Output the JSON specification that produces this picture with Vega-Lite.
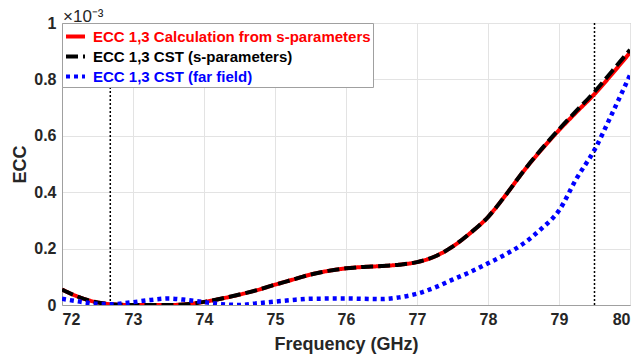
{
  "$schema": "https://vega.github.io/schema/vega-lite/v6.json",
  "width": 568,
  "height": 282,
  "autosize": {"type": "none"},
  "padding": {"left": 62, "top": 23, "right": 14, "bottom": 57},
  "background": "white",
  "title": {"text": "×10⁻³", "anchor": "start", "frame": "group", "font": "Liberation Sans", "fontSize": 17, "fontWeight": "normal", "color": "#262626", "offset": -11, "dx": 1},
  "config": {
    "view": {"stroke": "#a0a0a0", "strokeWidth": 1},
    "axis": {"labelFont": "Liberation Sans", "labelFontWeight": "bold", "labelFontSize": 16, "labelColor": "#262626", "titleFont": "Liberation Sans", "titleFontWeight": "bold", "titleFontSize": 18, "titleColor": "#262626", "gridColor": "#e3e3e3", "domainColor": "#a0a0a0", "ticks": false, "labelPadding": 6}
  },
  "datasets": {
    "curves": [
      {"freq": 72.0, "ecc": 0.055, "series": "ECC 1,3 Calculation from s-parameters"},
      {"freq": 72.2, "ecc": 0.032, "series": "ECC 1,3 Calculation from s-parameters"},
      {"freq": 72.4, "ecc": 0.015, "series": "ECC 1,3 Calculation from s-parameters"},
      {"freq": 72.6, "ecc": 0.005, "series": "ECC 1,3 Calculation from s-parameters"},
      {"freq": 72.8, "ecc": 0.001, "series": "ECC 1,3 Calculation from s-parameters"},
      {"freq": 73.0, "ecc": 0.0, "series": "ECC 1,3 Calculation from s-parameters"},
      {"freq": 73.5, "ecc": 0.0, "series": "ECC 1,3 Calculation from s-parameters"},
      {"freq": 73.8, "ecc": 0.004, "series": "ECC 1,3 Calculation from s-parameters"},
      {"freq": 74.0, "ecc": 0.011, "series": "ECC 1,3 Calculation from s-parameters"},
      {"freq": 74.25, "ecc": 0.023, "series": "ECC 1,3 Calculation from s-parameters"},
      {"freq": 74.5, "ecc": 0.037, "series": "ECC 1,3 Calculation from s-parameters"},
      {"freq": 74.75, "ecc": 0.053, "series": "ECC 1,3 Calculation from s-parameters"},
      {"freq": 75.0, "ecc": 0.072, "series": "ECC 1,3 Calculation from s-parameters"},
      {"freq": 75.25, "ecc": 0.09, "series": "ECC 1,3 Calculation from s-parameters"},
      {"freq": 75.5, "ecc": 0.108, "series": "ECC 1,3 Calculation from s-parameters"},
      {"freq": 75.75, "ecc": 0.121, "series": "ECC 1,3 Calculation from s-parameters"},
      {"freq": 76.0, "ecc": 0.13, "series": "ECC 1,3 Calculation from s-parameters"},
      {"freq": 76.25, "ecc": 0.135, "series": "ECC 1,3 Calculation from s-parameters"},
      {"freq": 76.5, "ecc": 0.138, "series": "ECC 1,3 Calculation from s-parameters"},
      {"freq": 76.75, "ecc": 0.143, "series": "ECC 1,3 Calculation from s-parameters"},
      {"freq": 77.0, "ecc": 0.152, "series": "ECC 1,3 Calculation from s-parameters"},
      {"freq": 77.25, "ecc": 0.172, "series": "ECC 1,3 Calculation from s-parameters"},
      {"freq": 77.5, "ecc": 0.207, "series": "ECC 1,3 Calculation from s-parameters"},
      {"freq": 77.75, "ecc": 0.255, "series": "ECC 1,3 Calculation from s-parameters"},
      {"freq": 78.0, "ecc": 0.312, "series": "ECC 1,3 Calculation from s-parameters"},
      {"freq": 78.25, "ecc": 0.39, "series": "ECC 1,3 Calculation from s-parameters"},
      {"freq": 78.5, "ecc": 0.474, "series": "ECC 1,3 Calculation from s-parameters"},
      {"freq": 78.75, "ecc": 0.55, "series": "ECC 1,3 Calculation from s-parameters"},
      {"freq": 79.0, "ecc": 0.62, "series": "ECC 1,3 Calculation from s-parameters"},
      {"freq": 79.25, "ecc": 0.685, "series": "ECC 1,3 Calculation from s-parameters"},
      {"freq": 79.5, "ecc": 0.748, "series": "ECC 1,3 Calculation from s-parameters"},
      {"freq": 79.75, "ecc": 0.82, "series": "ECC 1,3 Calculation from s-parameters"},
      {"freq": 80.0, "ecc": 0.895, "series": "ECC 1,3 Calculation from s-parameters"},

      {"freq": 72.0, "ecc": 0.055, "series": "ECC 1,3 CST (s-parameters)"},
      {"freq": 72.2, "ecc": 0.032, "series": "ECC 1,3 CST (s-parameters)"},
      {"freq": 72.4, "ecc": 0.015, "series": "ECC 1,3 CST (s-parameters)"},
      {"freq": 72.6, "ecc": 0.005, "series": "ECC 1,3 CST (s-parameters)"},
      {"freq": 72.8, "ecc": 0.001, "series": "ECC 1,3 CST (s-parameters)"},
      {"freq": 73.0, "ecc": 0.0, "series": "ECC 1,3 CST (s-parameters)"},
      {"freq": 73.5, "ecc": 0.0, "series": "ECC 1,3 CST (s-parameters)"},
      {"freq": 73.8, "ecc": 0.004, "series": "ECC 1,3 CST (s-parameters)"},
      {"freq": 74.0, "ecc": 0.011, "series": "ECC 1,3 CST (s-parameters)"},
      {"freq": 74.25, "ecc": 0.023, "series": "ECC 1,3 CST (s-parameters)"},
      {"freq": 74.5, "ecc": 0.037, "series": "ECC 1,3 CST (s-parameters)"},
      {"freq": 74.75, "ecc": 0.053, "series": "ECC 1,3 CST (s-parameters)"},
      {"freq": 75.0, "ecc": 0.072, "series": "ECC 1,3 CST (s-parameters)"},
      {"freq": 75.25, "ecc": 0.09, "series": "ECC 1,3 CST (s-parameters)"},
      {"freq": 75.5, "ecc": 0.108, "series": "ECC 1,3 CST (s-parameters)"},
      {"freq": 75.75, "ecc": 0.121, "series": "ECC 1,3 CST (s-parameters)"},
      {"freq": 76.0, "ecc": 0.13, "series": "ECC 1,3 CST (s-parameters)"},
      {"freq": 76.25, "ecc": 0.135, "series": "ECC 1,3 CST (s-parameters)"},
      {"freq": 76.5, "ecc": 0.138, "series": "ECC 1,3 CST (s-parameters)"},
      {"freq": 76.75, "ecc": 0.143, "series": "ECC 1,3 CST (s-parameters)"},
      {"freq": 77.0, "ecc": 0.152, "series": "ECC 1,3 CST (s-parameters)"},
      {"freq": 77.25, "ecc": 0.172, "series": "ECC 1,3 CST (s-parameters)"},
      {"freq": 77.5, "ecc": 0.207, "series": "ECC 1,3 CST (s-parameters)"},
      {"freq": 77.75, "ecc": 0.255, "series": "ECC 1,3 CST (s-parameters)"},
      {"freq": 78.0, "ecc": 0.312, "series": "ECC 1,3 CST (s-parameters)"},
      {"freq": 78.25, "ecc": 0.39, "series": "ECC 1,3 CST (s-parameters)"},
      {"freq": 78.5, "ecc": 0.475, "series": "ECC 1,3 CST (s-parameters)"},
      {"freq": 78.75, "ecc": 0.552, "series": "ECC 1,3 CST (s-parameters)"},
      {"freq": 79.0, "ecc": 0.623, "series": "ECC 1,3 CST (s-parameters)"},
      {"freq": 79.25, "ecc": 0.69, "series": "ECC 1,3 CST (s-parameters)"},
      {"freq": 79.5, "ecc": 0.756, "series": "ECC 1,3 CST (s-parameters)"},
      {"freq": 79.75, "ecc": 0.83, "series": "ECC 1,3 CST (s-parameters)"},
      {"freq": 80.0, "ecc": 0.905, "series": "ECC 1,3 CST (s-parameters)"},

      {"freq": 72.0, "ecc": 0.022, "series": "ECC 1,3 CST (far field)"},
      {"freq": 72.25, "ecc": 0.012, "series": "ECC 1,3 CST (far field)"},
      {"freq": 72.5, "ecc": 0.004, "series": "ECC 1,3 CST (far field)"},
      {"freq": 72.7, "ecc": 0.003, "series": "ECC 1,3 CST (far field)"},
      {"freq": 73.0, "ecc": 0.01, "series": "ECC 1,3 CST (far field)"},
      {"freq": 73.25, "ecc": 0.018, "series": "ECC 1,3 CST (far field)"},
      {"freq": 73.5, "ecc": 0.023, "series": "ECC 1,3 CST (far field)"},
      {"freq": 73.75, "ecc": 0.018, "series": "ECC 1,3 CST (far field)"},
      {"freq": 74.0, "ecc": 0.01, "series": "ECC 1,3 CST (far field)"},
      {"freq": 74.25, "ecc": 0.003, "series": "ECC 1,3 CST (far field)"},
      {"freq": 74.5, "ecc": 0.0, "series": "ECC 1,3 CST (far field)"},
      {"freq": 74.75, "ecc": 0.006, "series": "ECC 1,3 CST (far field)"},
      {"freq": 75.0, "ecc": 0.012, "series": "ECC 1,3 CST (far field)"},
      {"freq": 75.25, "ecc": 0.018, "series": "ECC 1,3 CST (far field)"},
      {"freq": 75.5, "ecc": 0.022, "series": "ECC 1,3 CST (far field)"},
      {"freq": 76.0, "ecc": 0.023, "series": "ECC 1,3 CST (far field)"},
      {"freq": 76.5, "ecc": 0.021, "series": "ECC 1,3 CST (far field)"},
      {"freq": 76.75, "ecc": 0.027, "series": "ECC 1,3 CST (far field)"},
      {"freq": 77.0, "ecc": 0.04, "series": "ECC 1,3 CST (far field)"},
      {"freq": 77.25, "ecc": 0.062, "series": "ECC 1,3 CST (far field)"},
      {"freq": 77.5, "ecc": 0.09, "series": "ECC 1,3 CST (far field)"},
      {"freq": 77.75, "ecc": 0.117, "series": "ECC 1,3 CST (far field)"},
      {"freq": 78.0, "ecc": 0.148, "series": "ECC 1,3 CST (far field)"},
      {"freq": 78.25, "ecc": 0.18, "series": "ECC 1,3 CST (far field)"},
      {"freq": 78.5, "ecc": 0.218, "series": "ECC 1,3 CST (far field)"},
      {"freq": 78.75, "ecc": 0.27, "series": "ECC 1,3 CST (far field)"},
      {"freq": 79.0, "ecc": 0.335, "series": "ECC 1,3 CST (far field)"},
      {"freq": 79.25, "ecc": 0.45, "series": "ECC 1,3 CST (far field)"},
      {"freq": 79.5, "ecc": 0.55, "series": "ECC 1,3 CST (far field)"},
      {"freq": 79.75, "ecc": 0.68, "series": "ECC 1,3 CST (far field)"},
      {"freq": 80.0, "ecc": 0.815, "series": "ECC 1,3 CST (far field)"}
    ],
    "markers": [{"freq": 72.68}, {"freq": 79.5}]
  },
  "layer": [
    {
      "data": {"name": "markers"},
      "mark": {"type": "rule", "color": "black", "strokeWidth": 1.5, "strokeDash": [2, 2]},
      "encoding": {
        "x": {"field": "freq", "type": "quantitative", "scale": {"domain": [72, 80], "nice": false}, "axis": {"title": "Frequency (GHz)", "values": [72, 73, 74, 75, 76, 77, 78, 79, 80], "format": "d", "titlePadding": 8}}
      }
    },
    {
      "data": {"name": "curves"},
      "transform": [{"filter": "datum.series === 'ECC 1,3 Calculation from s-parameters'"}],
      "mark": {"type": "line", "interpolate": "monotone", "strokeWidth": 4, "strokeCap": "butt", "clip": true},
      "encoding": {
        "x": {"field": "freq", "type": "quantitative"},
        "y": {"field": "ecc", "type": "quantitative", "scale": {"domain": [0, 1], "nice": false}, "axis": {"title": "ECC", "values": [0, 0.2, 0.4, 0.6, 0.8, 1], "format": ".1~f", "titlePadding": 4}},
        "stroke": {"field": "series", "type": "nominal", "scale": {"domain": ["ECC 1,3 Calculation from s-parameters", "ECC 1,3 CST (s-parameters)", "ECC 1,3 CST (far field)"], "range": ["#ff0000", "#000000", "#0000ff"]},
          "legend": {"title": null, "orient": "top-left", "offset": 0, "fillColor": "white", "strokeColor": "#a0a0a0", "padding": 2, "labelFont": "Liberation Sans", "labelFontWeight": "bold", "labelFontSize": 15, "labelLimit": 400, "symbolType": "stroke", "symbolSize": 361, "symbolStrokeWidth": 4, "rowPadding": 0, "labelOffset": 6,
            "encode": {"labels": {"update": {"fill": {"signal": "datum.value === 'ECC 1,3 Calculation from s-parameters' ? '#ff0000' : (datum.value === 'ECC 1,3 CST (far field)' ? '#0000ff' : '#000000')"}}}}}},
        "strokeDash": {"field": "series", "type": "nominal", "scale": {"domain": ["ECC 1,3 Calculation from s-parameters", "ECC 1,3 CST (s-parameters)", "ECC 1,3 CST (far field)"], "range": [[1, 0], [12, 5], [4, 4]]}, "legend": {"title": null}}
      }
    },
    {
      "data": {"name": "curves"},
      "transform": [{"filter": "datum.series === 'ECC 1,3 CST (s-parameters)'"}],
      "mark": {"type": "line", "interpolate": "monotone", "strokeWidth": 4, "strokeCap": "butt", "clip": true},
      "encoding": {
        "x": {"field": "freq", "type": "quantitative"},
        "y": {"field": "ecc", "type": "quantitative"},
        "stroke": {"field": "series", "type": "nominal"},
        "strokeDash": {"field": "series", "type": "nominal"}
      }
    },
    {
      "data": {"name": "curves"},
      "transform": [{"filter": "datum.series === 'ECC 1,3 CST (far field)'"}],
      "mark": {"type": "line", "interpolate": "monotone", "strokeWidth": 4.5, "strokeCap": "butt", "clip": true},
      "encoding": {
        "x": {"field": "freq", "type": "quantitative"},
        "y": {"field": "ecc", "type": "quantitative"},
        "stroke": {"field": "series", "type": "nominal"},
        "strokeDash": {"field": "series", "type": "nominal"}
      }
    }
  ]
}
